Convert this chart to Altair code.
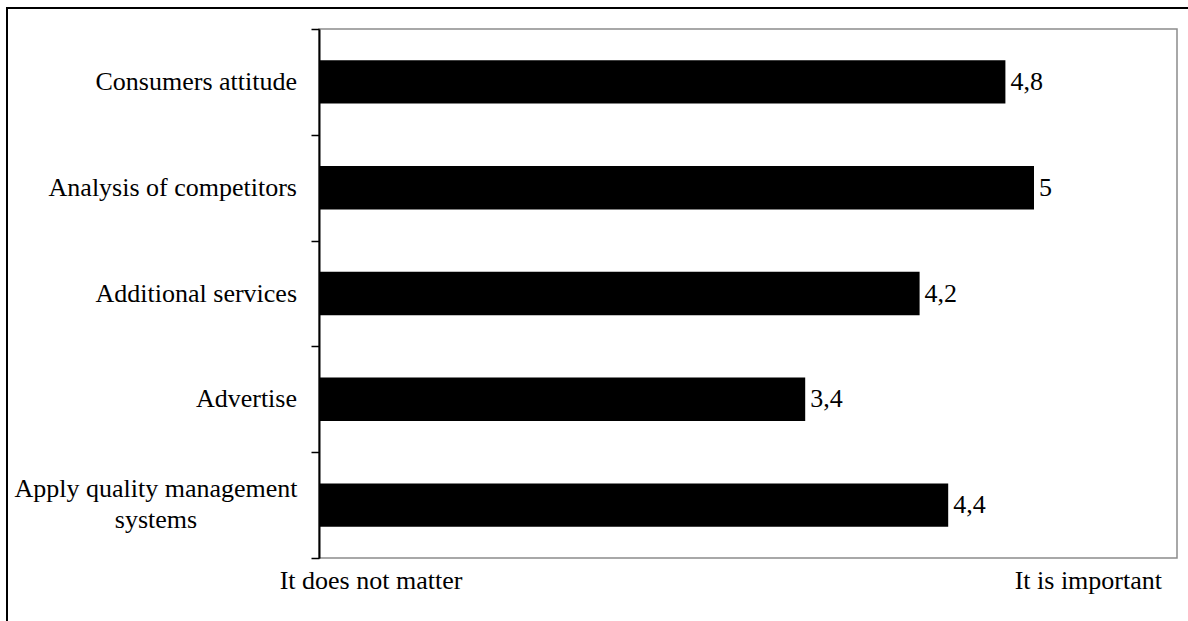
import altair as alt
import pandas as pd

categories = ["Consumers attitude", "Analysis of competitors", "Additional services",
              "Advertise", "Apply quality management systems"]
values = [4.8, 5, 4.2, 3.4, 4.4]
label_lines = ["Consumers attitude", "Analysis of competitors", "Additional services",
               "Advertise", "Apply quality management\nsystems"]
x_end_labels = ["It does not matter", "It is important"]

FONT = "Liberation Serif"
FS = 26

df = pd.DataFrame({"category": categories, "value": values, "label": label_lines})
df["multi"] = df["label"].str.contains("\n")

W, H = 858, 529

y_enc = alt.Y("category:N", sort=categories,
              scale=alt.Scale(paddingInner=0, paddingOuter=0),
              axis=alt.Axis(title=None, labels=False, tickBand="extent", domainColor="black",
                            domainWidth=2, tickColor="black", tickWidth=1.5, tickSize=8,
                            grid=False))
x_enc = alt.X("value:Q", scale=alt.Scale(domain=[0, 6], nice=False), axis=None)

base = alt.Chart(df)

bars = base.mark_bar(color="black", height=alt.RelativeBandSize(0.41)).encode(x=x_enc, y=y_enc)

vals = base.transform_calculate(
    txt="replace(toString(datum.value), '.', ',')"
).mark_text(align="left", baseline="middle", dx=5, font=FONT, fontSize=FS, color="black").encode(
    x=alt.X("value:Q"), y=alt.Y("category:N", sort=categories), text="txt:N")

ylab_single = base.transform_filter("!datum.multi").mark_text(
    align="right", baseline="middle", font=FONT, fontSize=FS, color="black"
).encode(x=alt.value(-22), y=alt.Y("category:N", sort=categories), text="label:N")

ylab_multi = base.transform_filter("datum.multi").mark_text(
    align="center", baseline="middle", font=FONT, fontSize=FS, color="black",
    lineBreak="\n", lineHeight=31, dy=-16
).encode(x=alt.value(-163), y=alt.Y("category:N", sort=categories), text="label:N")

ends = pd.DataFrame({"t": x_end_labels, "side": ["left", "right"]})
end_left = alt.Chart(ends).transform_filter("datum.side == 'left'").mark_text(
    align="center", baseline="alphabetic", font=FONT, fontSize=FS, color="black"
).encode(x=alt.value(52), y=alt.value(H + 31), text="t:N")
end_right = alt.Chart(ends).transform_filter("datum.side == 'right'").mark_text(
    align="right", baseline="alphabetic", font=FONT, fontSize=FS, color="black"
).encode(x=alt.value(843), y=alt.value(H + 31), text="t:N")

frame = alt.Chart(pd.DataFrame({"a": [0]})).mark_rect(
    fillOpacity=0, stroke="black", strokeWidth=2
).encode(x=alt.value(-312), x2=alt.value(W + 40), y=alt.value(-21), y2=alt.value(H + 120))

chart = alt.layer(frame, bars, vals, ylab_single, ylab_multi, end_left, end_right).properties(
    width=W, height=H,
    autosize=alt.AutoSizeParams(type="none"),
    padding={"left": 319, "top": 29, "right": 11, "bottom": 63},
    background="white",
).configure_view(stroke="#8c8c8c", strokeWidth=1.5)

chart.save("out.html", embed_options={"renderer": "svg", "actions": False})
